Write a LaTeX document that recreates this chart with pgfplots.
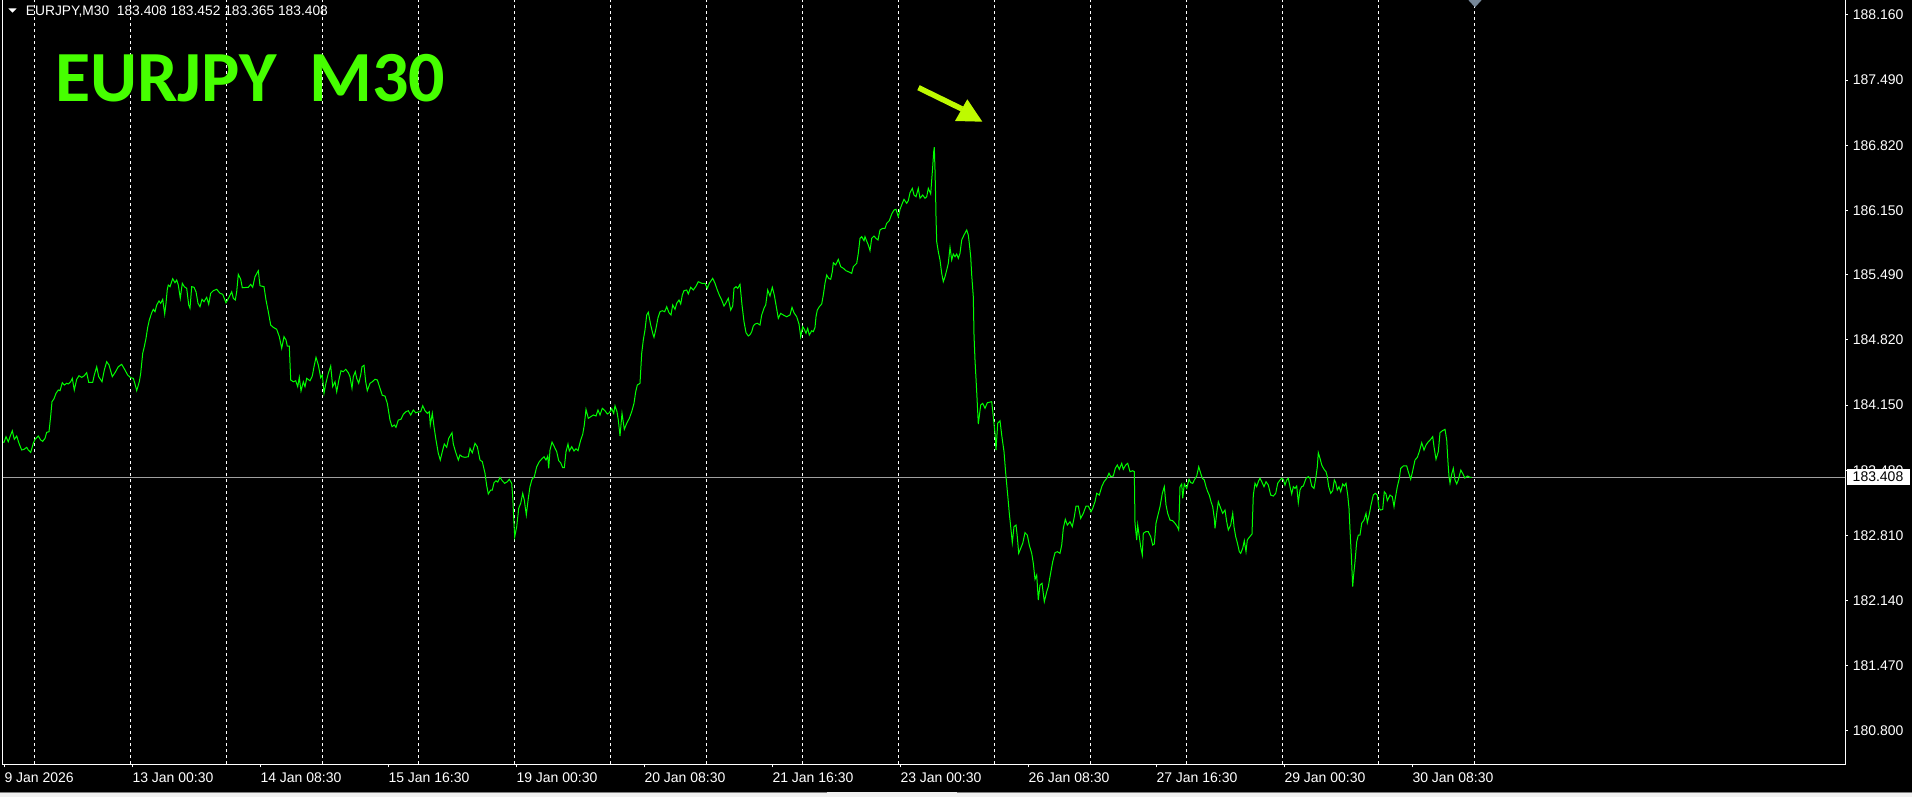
\documentclass[border=0pt]{standalone}
\usepackage{pgfplots}
\pgfplotsset{compat=1.18}
\usepackage{fontspec}
\setmainfont{Liberation Sans}
\newfontfamily\titlefont{Carlito}
\definecolor{curve}{RGB}{0,255,0}
\definecolor{titlegreen}{RGB}{70,255,0}
\definecolor{arrowcol}{RGB}{190,250,0}
\definecolor{pricegray}{RGB}{160,160,160}
\definecolor{slate}{RGB}{119,136,153}
\definecolor{stripgray}{RGB}{240,240,240}
\begin{document}
\begin{tikzpicture}[x=1pt,y=1pt]
\fill[black] (0,0) rectangle (1912,797);
\useasboundingbox (0,0) rectangle (1912,797);
\fill[stripgray] (0,0) rectangle (1912,4.5);
\draw[gray, line width=0.8pt] (0,4.5) -- (827,4.5);
\draw[gray, line width=0.8pt] (957,4.5) -- (1912,4.5);
\begin{axis}[
  at={(2pt,32.7pt)}, anchor=south west,
  scale only axis, width=1843pt, height=764.3pt,
  xmin=2, xmax=1845, ymin=180.4575, ymax=188.314,
  axis line style={draw=none},
  tick align=outside,
  xtick pos=left, ytick pos=right,
  yticklabel pos=right,
  major tick length=3pt,
  tick style={white, line width=1pt},
  xtick={4.3,132.3,260.3,388.3,516.3,644.3,772.3,900.3,1028.3,1156.3,1284.3,1412.3},
  xticklabels={9 Jan 2026,13 Jan 00:30,14 Jan 08:30,15 Jan 16:30,19 Jan 00:30,20 Jan 08:30,21 Jan 16:30,23 Jan 00:30,26 Jan 08:30,27 Jan 16:30,29 Jan 00:30,30 Jan 08:30},
  ytick={180.80,181.47,182.14,182.81,183.48,184.15,184.82,185.49,186.15,186.82,187.49,188.16},
  yticklabels={180.800,181.470,182.140,182.810,183.480,184.150,184.820,185.490,186.150,186.820,187.490,188.160},
  xticklabel style={font=\fontsize{14}{14}\selectfont, text=white, anchor=north west, inner sep=0pt, yshift=-5pt},
  yticklabel style={font=\fontsize{14}{14}\selectfont, text=white, anchor=west, inner sep=0pt, xshift=4.7pt},
  extra x ticks={34.3,130.3,226.3,322.3,418.3,514.3,610.3,706.3,802.3,898.3,994.3,1090.3,1186.3,1282.3,1378.3,1474.3},
  extra x tick labels={},
  extra x tick style={grid=major, major grid style={white, line width=1pt, dash pattern=on 3pt off 3pt}, major tick length=0pt},
]
\addplot[pricegray, line width=1pt] coordinates {(2,183.408) (1845,183.408)};
\addplot[curve, line width=1pt] table {
x y
3 183.770
4 183.767
6 183.825
8.3 183.773
10 183.825
12.3 183.886
14.3 183.798
16.7 183.832
19 183.757
21.7 183.688
24 183.695
26.7 183.716
28.3 183.688
30.7 183.664
33.3 183.757
35 183.798
38.3 183.832
40.7 183.791
42.7 183.777
45 183.808
46.7 183.870
49 183.876
50.7 184.038
52 184.185
54 184.215
56 184.271
58.3 184.305
60 184.298
62.3 184.380
64.3 184.356
66.7 184.374
68.3 184.367
70.7 184.390
72.3 184.425
74.3 184.305
76.7 184.415
79 184.452
81.7 184.435
84 184.449
86.7 184.483
88.7 184.384
92.7 184.384
94.3 184.459
96.7 184.544
98.7 184.442
102 184.390
104.3 184.510
106.7 184.596
109 184.562
112.3 184.442
115 184.483
118.3 184.544
121.7 184.569
125 184.510
127.7 184.459
130.7 184.431
133.3 184.425
135 184.367
136.7 184.298
139.3 184.390
140.7 184.476
142.7 184.682
144.3 184.750
146 184.836
147.7 184.949
149.3 185.024
151.7 185.099
153.3 185.134
155 185.110
156.7 185.179
159 185.220
160.7 185.196
162.7 185.237
164.7 185.086
166 185.196
167.3 185.340
168.3 185.384
170 185.367
172.7 185.449
175 185.408
176.7 185.436
178.3 185.384
180.3 185.248
182.3 185.402
184.3 185.367
186.7 185.350
188.7 185.179
190 185.145
191.7 185.367
194 185.361
196 185.315
198 185.196
200 185.161
202 185.237
204 185.213
206.7 185.258
208.7 185.186
210.7 185.299
213.3 185.326
216.7 185.340
220 185.299
222.7 185.289
226 185.202
229.3 185.264
231.7 185.315
233.3 185.248
235.3 185.230
236.7 185.315
238.3 185.494
240.7 185.443
242.3 185.356
248.3 185.361
250.7 185.391
252.7 185.361
255 185.470
258.3 185.531
260 185.377
264 185.367
266 185.230
268.3 185.110
270.7 184.973
273.3 184.949
276.7 184.929
279.3 184.853
281.7 184.734
284 184.853
286 184.819
287.3 184.757
289.3 184.757
290.7 184.408
293.3 184.390
295.7 184.400
297.7 184.339
299.3 184.435
301 184.295
303.3 184.390
305 184.339
306.7 184.425
310 184.400
312.3 184.449
314 184.544
316 184.641
318.3 184.562
320.7 184.431
322.3 184.459
324 184.271
326 184.380
328.3 184.476
330.7 184.552
332.7 184.339
335 184.390
336.7 184.287
339 184.415
341 184.503
343.3 184.493
345.7 184.518
348.3 184.483
350 184.442
352 184.322
353.3 184.442
355.3 184.493
356.7 184.425
358.7 184.374
360.7 184.459
362 184.544
364 184.559
365.7 184.390
367.3 184.298
370 184.374
372.3 184.390
375 184.415
377.3 184.408
379.3 184.346
382.3 184.250
385 184.243
387.3 184.168
390 183.996
392 183.928
394.3 183.945
396 183.921
398.3 183.996
401 184.004
403.3 184.055
406 184.082
408.3 184.092
410.7 184.048
413.3 184.099
415.7 184.071
418.3 184.079
420.7 184.082
422.7 184.143
425 184.092
427.3 184.065
429.3 184.082
430.3 183.945
432.3 184.065
434 183.928
436 183.791
438.3 183.654
440.3 183.585
442.3 183.671
444.3 183.750
446.7 183.716
448.7 183.808
452 183.866
453.3 183.750
455.3 183.678
458.3 183.585
460 183.637
462.3 183.619
465 183.613
468.3 183.619
470 183.706
472.3 183.660
475 183.757
477.3 183.722
480 183.585
482.3 183.568
485 183.449
486.7 183.321
488.3 183.236
490.7 183.277
492.3 183.277
494 183.352
496 183.372
497.7 183.359
500 183.407
502.3 183.372
504.7 183.346
507.3 183.362
509.3 183.387
511.7 183.346
512.7 183.208
514 182.935
514.7 182.797
516.7 182.900
518.7 183.089
520.7 183.140
522.7 183.243
524.3 183.174
526.3 183.020
528.3 183.192
530 183.311
532 183.387
534.3 183.414
536.7 183.516
539.3 183.568
542 183.599
544 183.619
546 183.585
547.7 183.626
548.7 183.500
550 183.688
552 183.770
554.3 183.722
556.7 183.671
558.7 183.578
560.7 183.557
562.7 183.506
564.3 183.506
566 183.671
568 183.750
569.3 183.678
571.7 183.722
574 183.678
576 183.701
578 183.681
580.7 183.791
582.7 183.849
584.3 183.945
586 184.106
588.3 184.014
590.7 184.030
593.3 184.048
596 184.038
598 184.099
600 184.048
602.3 184.117
605 184.092
607.3 184.058
609.3 184.071
611.7 184.113
613.7 184.065
615 184.143
617 184.082
618.3 183.996
620 183.832
622 184.065
624.3 183.901
626.7 183.963
629.3 184.014
631.7 184.082
634 184.168
635.7 184.287
637.3 184.356
640 184.374
641.7 184.682
643.3 184.819
645 184.922
646.7 185.076
648.3 185.104
650.7 184.973
652.7 184.888
654 184.847
656 184.939
658 185.048
660 185.110
662.3 185.120
664.7 185.110
666.7 185.161
669 185.099
671 185.076
672.7 185.179
675 185.134
676.7 185.196
679 185.230
680.7 185.189
682.3 185.281
684 185.326
686.7 185.333
688.3 185.292
690.7 185.361
693.3 185.333
695.7 185.367
698.3 185.418
701.7 185.402
705 185.402
707.3 185.350
709.3 185.402
712.7 185.453
715 185.402
717.3 185.333
719.3 185.281
721.7 185.230
724 185.168
726 185.202
728.3 185.248
730.7 185.127
732.7 185.168
734 185.350
736 185.367
737.7 185.350
740 185.391
742 185.179
744 185.007
746 184.894
748.3 184.860
750 184.873
751.7 184.904
753.3 184.963
755 184.983
757.3 184.991
760 184.973
761.7 185.076
764 185.145
765.7 185.179
767.7 185.333
770 185.271
772.3 185.361
774.3 185.281
776 185.179
778.3 185.042
780.7 185.093
783.3 185.076
786.7 185.058
790 185.076
792 185.155
794 185.099
796.7 185.058
799 184.983
800.7 184.853
802.7 184.956
804.3 184.929
806 184.888
807.7 184.939
809.3 184.870
811.7 184.914
813.3 184.904
815 184.949
816 185.058
817.3 185.127
819.3 185.161
821.7 185.189
823.3 185.281
825 185.402
826.7 185.487
828.7 185.453
830.7 185.443
832.3 185.521
833.3 185.613
835.7 185.590
838.3 185.648
840.7 185.572
843.3 185.556
846 185.531
848.3 185.521
851.7 185.504
853.3 185.572
855 185.590
856.7 185.607
858.3 185.710
860 185.864
861.7 185.881
864 185.840
865 185.881
867.3 185.819
868.3 185.795
870 185.737
871.7 185.864
874 185.888
876 185.864
878 185.847
880 185.950
882.7 185.967
885 185.967
886.7 186.019
889.3 186.045
891.7 186.114
894 186.155
896 186.162
898.3 186.086
900 186.162
902.3 186.224
904 186.265
906.7 186.224
908.3 186.251
910 186.333
912.3 186.378
914 186.309
916 186.292
918.3 186.378
920 186.276
922.7 186.309
925 186.276
926.7 186.292
928.3 186.378
930.7 186.320
931.7 186.464
932.7 186.600
933.7 186.755
934.3 186.800
935 186.566
935.7 186.258
936 186.086
936.7 185.829
938.3 185.727
940 185.641
941.7 185.504
943.3 185.418
945 185.470
946.7 185.538
948.3 185.607
950 185.772
951.7 185.641
953.3 185.703
955 185.675
956.7 185.703
958.3 185.659
960 185.710
961.7 185.847
964 185.898
966.7 185.950
968.3 185.898
969.3 185.813
970.7 185.675
971.7 185.487
973.3 185.264
974 184.870
975 184.613
976.7 184.287
978.3 183.955
980.7 184.151
982.7 184.168
985 184.117
987.3 184.174
991.7 184.185
993.3 184.030
995 183.860
996 183.688
997.7 183.963
1000 183.989
1001.7 183.842
1004 183.671
1005.7 183.449
1007.7 183.225
1009.3 183.037
1010.7 182.900
1012.3 182.735
1014 182.900
1016 182.917
1017.3 182.797
1018.7 182.626
1020.7 182.678
1022.7 182.729
1025 182.838
1027.3 182.814
1029.3 182.711
1031.7 182.626
1033.3 182.523
1035 182.359
1036.7 182.403
1038.3 182.146
1040 182.300
1042 182.318
1044.3 182.129
1046.7 182.231
1048.3 182.283
1050 182.386
1052.7 182.540
1055 182.632
1057.3 182.643
1060 182.626
1061.7 182.711
1063.3 182.883
1065.3 182.976
1067.3 182.917
1070 182.951
1072.3 182.900
1074.3 183.002
1076 183.112
1078.3 183.112
1080.7 182.986
1083.3 183.037
1086 183.112
1088.3 183.112
1091 183.054
1092.7 183.089
1095 183.157
1096.7 183.243
1099.3 183.225
1101.7 183.311
1104 183.362
1106.7 183.397
1109 183.449
1110.7 183.414
1113.3 183.421
1115.3 183.500
1117.3 183.534
1119.3 183.490
1121.7 183.551
1123.3 183.490
1125.7 183.534
1127.7 183.551
1130 183.465
1132.7 183.475
1134.3 183.465
1135 182.935
1136.7 182.763
1137.7 182.917
1139.3 182.797
1140.7 182.694
1142.3 182.609
1143.3 182.832
1145.7 182.848
1148.3 182.848
1150.7 182.797
1152.7 182.711
1154.3 182.722
1156 182.935
1157.7 183.010
1160 183.105
1162.3 183.243
1164.3 183.311
1166 183.123
1167.7 183.037
1170 182.968
1172.7 182.961
1175 182.935
1177.3 182.900
1178.7 182.866
1180 183.311
1181.7 183.339
1182.7 183.192
1184.3 183.339
1186.7 183.294
1189 183.387
1190.7 183.352
1192.7 183.346
1194.3 183.380
1196.7 183.421
1198.7 183.516
1200.7 183.449
1202.3 183.397
1204.3 183.380
1206 183.311
1207.7 183.259
1209.3 183.225
1211 183.157
1212.7 183.105
1214.3 182.986
1215 182.883
1216.7 183.037
1218.3 183.157
1220.7 183.089
1222.7 183.037
1225 183.071
1226.7 182.951
1228.3 182.866
1230.7 182.917
1232.7 183.037
1234 182.900
1235.7 182.797
1237.3 182.735
1239.3 182.643
1240.7 182.626
1242.7 182.678
1244.3 182.756
1246 182.643
1247.3 182.763
1249.3 182.791
1252 182.825
1253.3 183.225
1255 183.346
1256.7 183.311
1258.3 183.362
1260 183.397
1261.7 183.362
1264 183.311
1266 183.362
1268.3 183.328
1270.7 183.225
1273.3 183.215
1275.7 183.243
1277.7 183.346
1280 183.380
1281.7 183.397
1283.3 183.387
1285 183.328
1286.7 183.380
1288.3 183.397
1290 183.311
1291.7 183.236
1293.3 183.311
1295 183.294
1296.7 183.318
1298.3 183.146
1300 183.277
1301.7 183.311
1303.3 183.318
1306 183.397
1308.3 183.414
1310 183.397
1311.7 183.318
1314 183.294
1316 183.414
1317.3 183.516
1318.3 183.660
1320 183.603
1321.7 183.534
1324 183.490
1326 183.465
1327.3 183.414
1328.7 183.311
1330.7 183.243
1332.7 183.270
1334.3 183.380
1335.7 183.352
1337.3 183.277
1339 183.311
1340.7 183.259
1342.7 183.339
1344.3 183.318
1346 183.346
1347.7 183.225
1349 183.089
1350 182.866
1351.3 182.609
1352.7 182.283
1353.3 182.369
1355 182.540
1356.7 182.745
1358.3 182.814
1360 182.814
1361.7 182.935
1364 182.968
1366 183.037
1367.3 182.941
1369.3 183.030
1371 183.123
1373.3 183.225
1375.3 183.243
1377.3 183.225
1379 183.089
1380.7 183.071
1382.7 183.078
1384.3 183.259
1386 183.236
1387.3 183.167
1390 183.225
1392.3 183.208
1394 183.105
1395.3 183.192
1397.3 183.311
1399.3 183.397
1400.7 183.500
1403.3 183.524
1406.7 183.524
1408.3 183.465
1410.7 183.387
1412.7 183.475
1415 183.585
1417.3 183.613
1419.3 183.671
1421.7 183.763
1424 183.688
1426 183.739
1428.3 183.773
1430.7 183.798
1432.7 183.825
1434 183.722
1436 183.592
1438.3 183.671
1440 183.866
1442.3 183.886
1445 183.901
1446.7 183.791
1448 183.557
1449 183.414
1450 183.346
1451.7 183.441
1453.3 183.500
1455 183.380
1456.7 183.339
1458.3 183.380
1460.8 183.482
1463 183.441
1464.8 183.400
1467.5 183.421
1470 183.407
1471.6 183.408
};
\end{axis}
% frame
\draw[white, line width=1pt] (2.5,797) -- (2.5,32.2) -- (1845.3,32.2) -- (1845.3,797);
% price box
\fill[white] (1847,312) rectangle (1909.5,328);
\node[anchor=west, inner sep=0pt, text=black, font=\fontsize{14}{14}\selectfont] at (1852.5,320) {183.408};
% top grey triangle
\fill[slate] (1468.3,797) -- (1481.7,797) -- (1475,789.7) -- cycle;
% header
\fill[white] (8.3,788.7) -- (16.7,788.7) -- (12.5,784.3) -- cycle;
\node[anchor=base west, inner sep=0pt, text=white, font=\fontsize{13.8}{14}\selectfont] at (25.7,781.3) {EURJPY,M30\ \ 183.408 183.452 183.365 183.408};
% title
\node[anchor=base west, inner sep=0pt, text=titlegreen, font=\titlefont\bfseries\fontsize{72}{72}\selectfont] at (55,695.3) {EURJPY\ \ M30};
% arrow
\draw[arrowcol, line width=5.5pt] (918.5,709.3) -- (962,688);
\fill[arrowcol] (955,676) -- (982.3,675.3) -- (967.3,697.7) -- cycle;
\end{tikzpicture}
\end{document}
